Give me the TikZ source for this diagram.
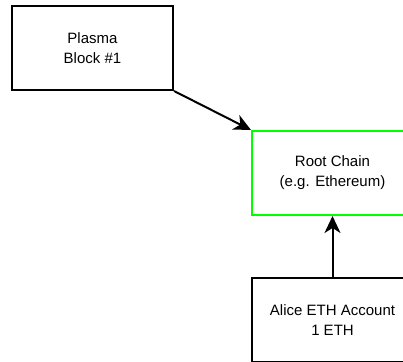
\documentclass[tikz,border=0pt]{standalone}
\usepackage{fontspec}
\setmainfont{Liberation Sans}
\usetikzlibrary{arrows.meta}
\definecolor{brightgreen}{HTML}{00FF00}
\begin{document}
\begin{tikzpicture}[x=1pt,y=-1pt,
  box/.style={draw=black,line width=2pt,minimum width=161pt,minimum height=84pt,inner sep=0pt,align=center,font=\fontsize{15}{20}\selectfont,anchor=north west},
  conn/.style={line width=2pt,-{Stealth[length=17pt,width=16pt,inset=5pt]}}]
\useasboundingbox (0,0) rectangle (403,361);
\clip (0,0) rectangle (403,361);
\node[box] (plasma) at (11,5) {Plasma\\Block \#1};
\node[box,draw=brightgreen] (root) at (251,130) {Root Chain\\(e.g. Ethereum)};
\node[box] (alice) at (251,277) {Alice ETH Account\\1 ETH};
\draw[conn] (plasma.south east) -- (root.north west);
\draw[conn] (alice.north) -- (root.south);
\end{tikzpicture}
\end{document}
